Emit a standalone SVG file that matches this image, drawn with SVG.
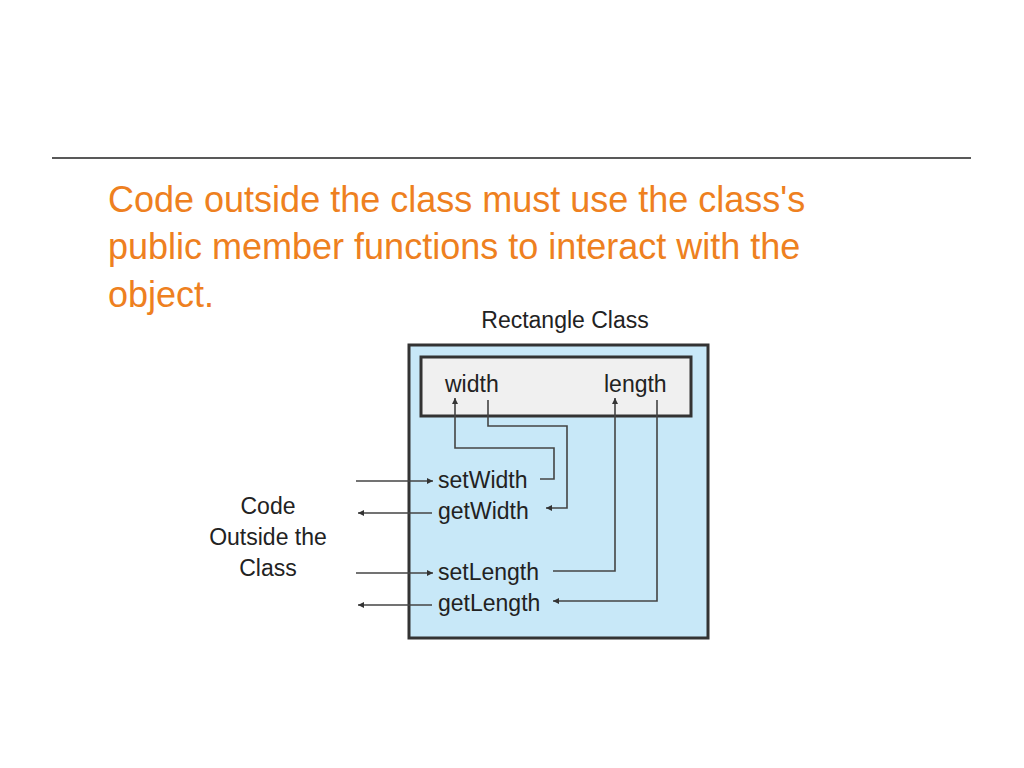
<svg xmlns="http://www.w3.org/2000/svg" width="1024" height="768" viewBox="0 0 1024 768">
<defs>
<style>
.t{font-family:"Liberation Sans",Arial,sans-serif;fill:#222;font-size:23px}
.c{fill:none;stroke:#444;stroke-width:1.6}
</style>
<marker id="a" viewBox="0 0 10 10" refX="10" refY="5" markerWidth="8" markerHeight="6" orient="auto" markerUnits="userSpaceOnUse"><path d="M0,0L10,5L0,10z" fill="#333"/></marker>
</defs>
<rect width="1024" height="768" fill="#fff"/>
<line x1="52" y1="158" x2="971" y2="158" stroke="#222" stroke-width="1.5"/>
<g id="title" font-family="'Liberation Sans',Arial,sans-serif" font-size="36" fill="#ee8020">
<text x="108" y="212">Code outside the class must use the class's</text>
<text x="108" y="259">public member functions to interact with the</text>
<text x="108" y="307">object.</text>
</g>
<text class="t" x="565" y="328" text-anchor="middle" font-size="22">Rectangle Class</text>
<g id="outer"><rect x="409" y="345" width="299" height="293" fill="#c8e8f8" stroke="#333" stroke-width="3"/></g>
<g id="fields"><rect x="421" y="357" width="270" height="59" fill="#f0f0f0" stroke="#333" stroke-width="3"/>
<text class="t" x="445" y="392">width</text><text class="t" x="604" y="392">length</text></g>
<g id="methods">
<text class="t" x="438" y="488">setWidth</text>
<text class="t" x="438" y="519">getWidth</text>
<text class="t" x="438" y="580">setLength</text>
<text class="t" x="438" y="611">getLength</text>
</g>
<g id="outside"><text class="t" x="268" y="514" text-anchor="middle">Code</text><text class="t" x="268" y="545" text-anchor="middle">Outside the</text><text class="t" x="268" y="576" text-anchor="middle">Class</text></g>
<g id="connectors">
<path class="c" d="M540,479H554V448H455V398" marker-end="url(#a)"/>
<path class="c" d="M488,400V426H567V508H546" marker-end="url(#a)"/>
<path class="c" d="M553,571H615V398" marker-end="url(#a)"/>
<path class="c" d="M657,400V601H553" marker-end="url(#a)"/>
<path class="c" d="M356,481H433" marker-end="url(#a)"/>
<path class="c" d="M432,513H358" marker-end="url(#a)"/>
<path class="c" d="M356,573H433" marker-end="url(#a)"/>
<path class="c" d="M432,605H358" marker-end="url(#a)"/>
</g>
</svg>
